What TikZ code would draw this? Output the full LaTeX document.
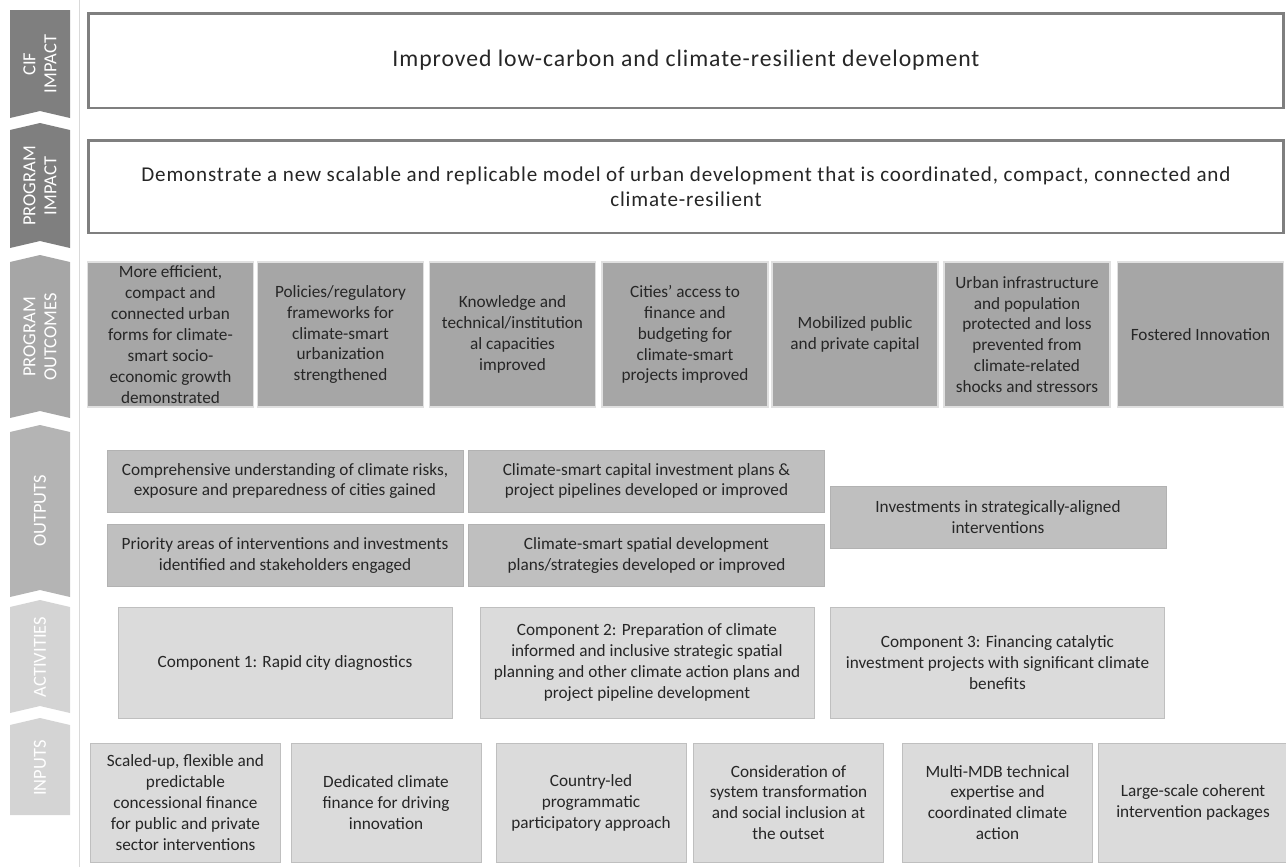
\documentclass[tikz,border=0pt]{standalone}
\usepackage{fontspec}
\usepackage{xcolor}
\setmainfont{Carlito}
\newfontfamily\widefont[LetterSpace=4]{Carlito}

\definecolor{stagedark}{HTML}{7F7F7F}
\definecolor{stagemid}{HTML}{A6A6A6}
\definecolor{stageout}{HTML}{B4B4B4}
\definecolor{stagelight}{HTML}{D4D4D4}
\definecolor{textgray}{HTML}{262626}

\begin{document}
\begin{tikzpicture}[
  x=0.02cm, y=-0.02cm,
  font=\fontsize{9.8}{11.9}\selectfont, text=textgray,
  impactbox/.style={draw=stagedark,fill=white,line width=1.7pt,align=center,minimum width=23.92cm},
  outcome/.style={draw=black!12,fill=stagemid,line width=1pt,align=center,minimum width=3.32cm,minimum height=2.9cm,inner sep=1pt},
  output/.style={draw=black!30,fill=black!25,line width=0.5pt,align=center,minimum width=7.12cm,minimum height=1.24cm},
  activity/.style={draw=black!25,fill=black!14,line width=0.5pt,align=center,minimum width=6.68cm,minimum height=2.22cm},
  input/.style={draw=black!25,fill=black!14,line width=0.5pt,align=center,minimum width=3.8cm,minimum height=2.38cm},
  stage/.style={rotate=90,text=white,align=center,font=\fontsize{10.5}{12}\selectfont}
]
  \useasboundingbox (0,0) rectangle (1286,867);

  % stage chevrons on the left
  \fill[stagedark] (10,10) -- (70,10) -- (70,118) -- (40,111) -- (10,118) -- cycle;
  \fill[stagedark] (10,130) -- (40,123) -- (70,130) -- (70,248) -- (40,241) -- (10,248) -- cycle;
  \fill[stagemid] (10,262) -- (40,255) -- (70,262) -- (70,418) -- (40,411) -- (10,418) -- cycle;
  \fill[stageout] (10,432) -- (40,425) -- (70,432) -- (70,597) -- (40,590) -- (10,597) -- cycle;
  \fill[stagelight] (10,607) -- (40,600) -- (70,607) -- (70,713) -- (40,706) -- (10,713) -- cycle;
  \fill[stagelight] (10,725) -- (40,718) -- (70,725) -- (70,815) -- (10,815) -- cycle;
  \draw[black!15] (79,0) -- (79,867);

  \node[stage] (s1) at (40,64) {CIF\\IMPACT};
  \node[stage] (s2) at (40,186) {PROGRAM\\IMPACT};
  \node[stage] (s3) at (40,337) {PROGRAM\\OUTCOMES};
  \node[stage] (s4) at (40,511) {OUTPUTS};
  \node[stage] (s5) at (40,657) {ACTIVITIES};
  \node[stage] (s6) at (40,768) {INPUTS};

  % impacts
  \node[impactbox,minimum height=1.9cm,font=\widefont\fontsize{13.5}{16}\selectfont] (cif) at (686,60.5)
    {Improved low-carbon and climate-resilient development};
  \node[impactbox,minimum height=1.86cm,font=\widefont\fontsize{12}{14}\selectfont] (prog) at (686,186.5)
    {Demonstrate a new scalable and replicable model of urban development that is coordinated, compact, connected and\\climate-resilient};

  % program outcomes
  \node[outcome] (o1) at (170.5,334.5) {More efficient,\\compact and\\connected urban\\forms for climate-\\smart socio-\\economic growth\\demonstrated};
  \node[outcome] (o2) at (340.5,334.5) {Policies/regulatory\\frameworks for\\climate-smart\\urbanization\\strengthened};
  \node[outcome] (o3) at (512.5,334.5) {Knowledge and\\technical/institution\\al capacities\\improved};
  \node[outcome] (o4) at (685,334.5) {Cities' access to\\finance and\\budgeting for\\climate-smart\\projects improved};
  \node[outcome] (o5) at (855,334.5) {Mobilized public\\and private capital};
  \node[outcome] (o6) at (1027,334.5) {Urban infrastructure\\and population\\protected and loss\\prevented from\\climate-related\\shocks and stressors};
  \node[outcome] (o7) at (1200.5,334.5) {Fostered Innovation};

  % outputs
  \node[output] (out1) at (285,481) {Comprehensive understanding of climate risks,\\exposure and preparedness of cities gained};
  \node[output] (out2) at (285,555.5) {Priority areas of interventions and investments\\identified and stakeholders engaged};
  \node[output] (out3) at (646.5,481) {Climate-smart capital investment plans \&\\project pipelines developed or improved};
  \node[output] (out4) at (646.5,555.5) {Climate-smart spatial development\\plans/strategies developed or improved};
  \node[output,minimum width=6.72cm] (out5) at (998,517) {Investments in strategically-aligned\\interventions};

  % activities
  \node[activity] (a1) at (285,662.5) {Component 1: Rapid city diagnostics};
  \node[activity] (a2) at (647,662.5) {Component 2: Preparation of climate\\informed and inclusive strategic spatial\\planning and other climate action plans and\\project pipeline development};
  \node[activity] (a3) at (997.5,662.5) {Component 3: Financing catalytic\\investment projects with significant climate\\benefits};

  % inputs
  \node[input] (in1) at (185.5,802.5) {Scaled-up, flexible and\\predictable\\concessional finance\\for public and private\\sector interventions};
  \node[input] (in2) at (386,802.5) {Dedicated climate\\finance for driving\\innovation};
  \node[input] (in3) at (591,802.5) {Country-led\\programmatic\\participatory approach};
  \node[input] (in4) at (788.5,802.5) {Consideration of\\system transformation\\and social inclusion at\\the outset};
  \node[input] (in5) at (997.5,802.5) {Multi-MDB technical\\expertise and\\coordinated climate\\action};
  \node[input] (in6) at (1193,802.5) {Large-scale coherent\\intervention packages};
\end{tikzpicture}
\end{document}
